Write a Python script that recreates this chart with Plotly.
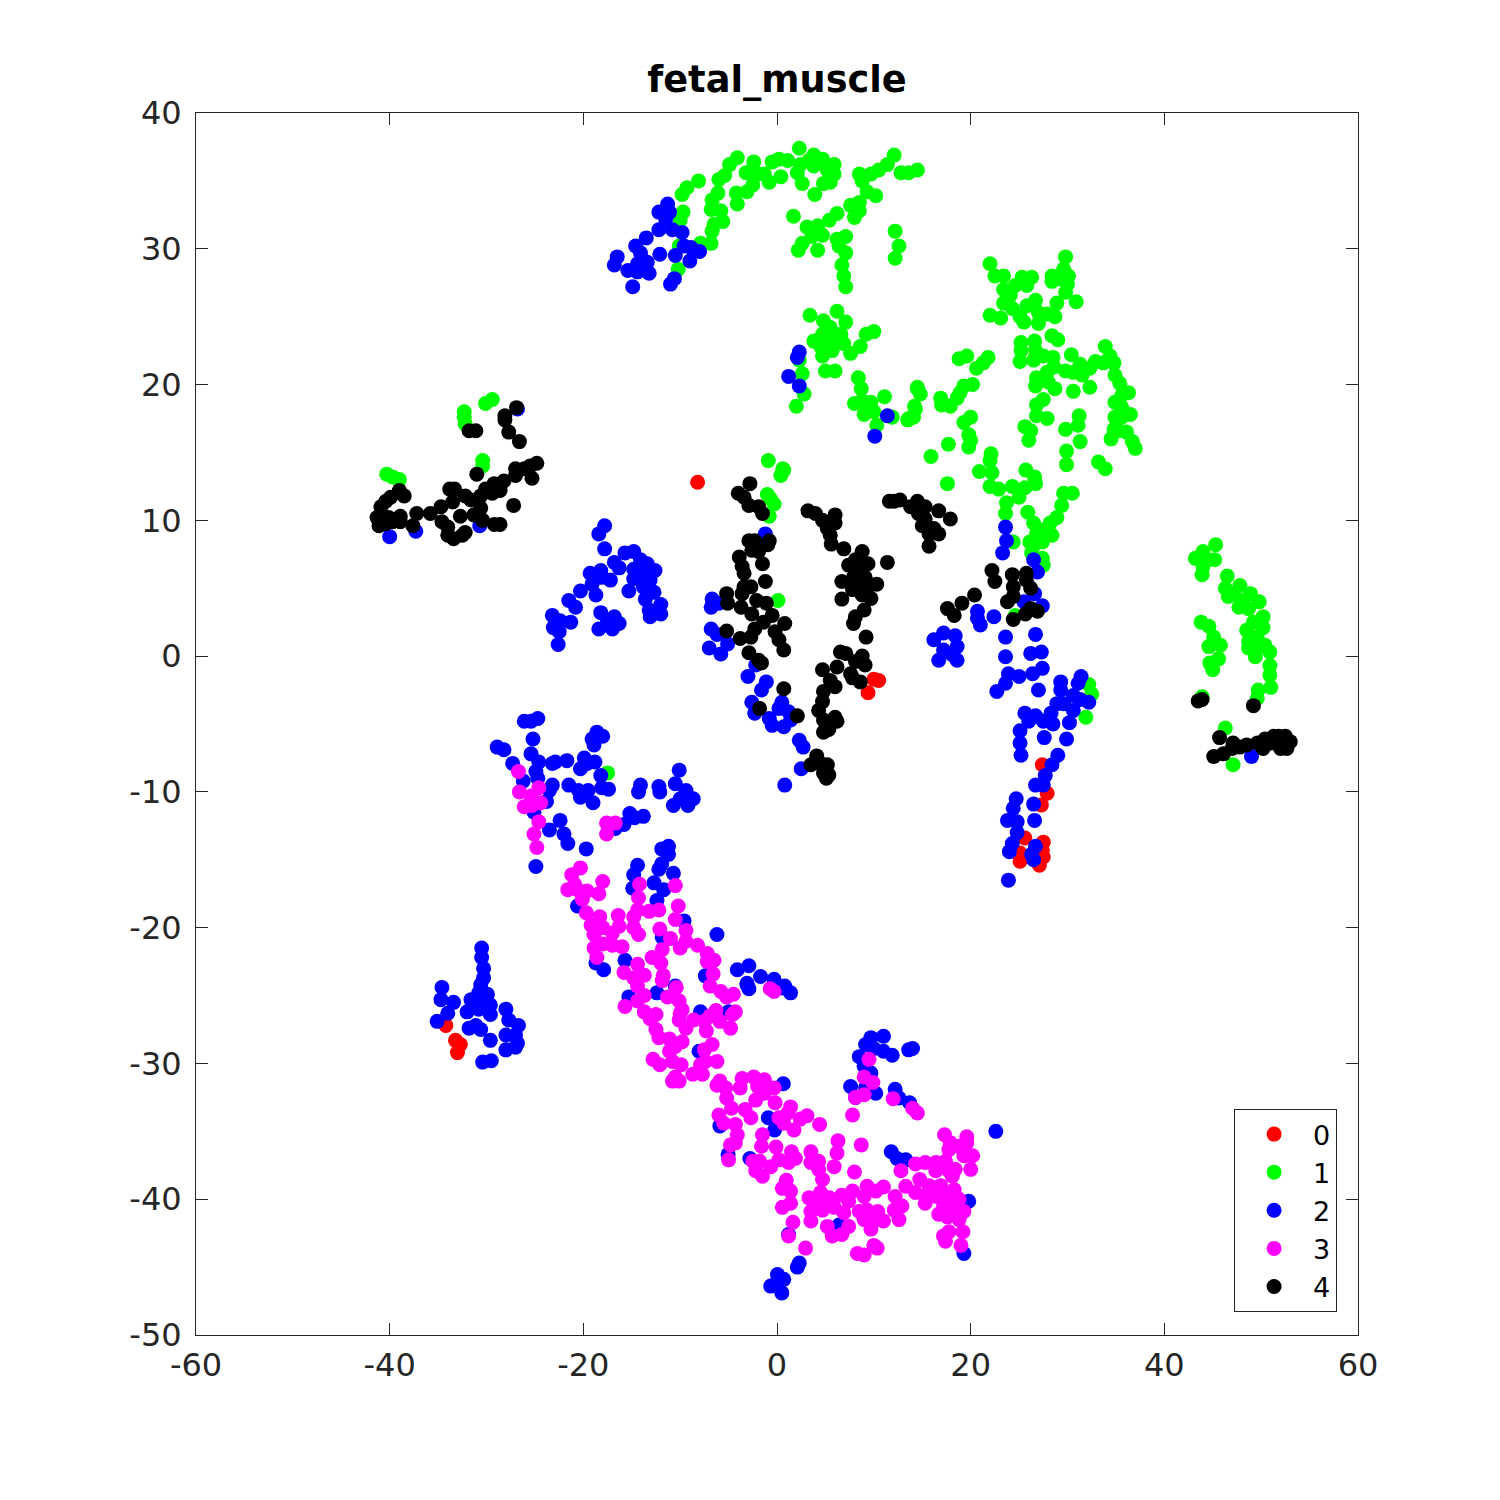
import plotly.graph_objects as go

# cluster labels and colours
labels = ["0", "1", "2", "3", "4"]
colors = ["#ff0000", "#00ff00", "#0000ff", "#ff00ff", "#000000"]

x_ticks = [-60, -40, -20, 0, 20, 40, 60]
y_ticks = [-50, -40, -30, -20, -10, 0, 10, 20, 30, 40]

# t-SNE coordinates
pts_0 = [(27.4,-8.0),(27.9,-10.1),(27.3,-10.96),(25.6,-13.4),(27.5,-13.7),(25.1,-14.5),(25.1,-15.1),(27.5,-14.8),
    (27.1,-15.4),(27.4,-14.3),(-8.2,12.8),(10.0,-1.7),(10.5,-1.8),(9.4,-2.7),(-34.2,-27.2),(-33.2,-28.3),
    (-32.7,-28.6),(-33.0,-29.2)]

pts_1 = [(-8.1,35.0),(-9.3,34.5),(-9.8,34.0),(-9.7,32.7),(-10.0,32.1),(-10.1,30.2),(-10.2,28.5),(-7.9,30.4),
    (-6.8,30.4),(-6.7,31.3),(-6.5,31.8),(-5.6,32.0),(-5.8,32.8),(-6.8,32.9),(-6.7,33.6),(-6.1,34.1),(-6.0,35.1),
    (-5.4,35.4),(-4.9,36.2),(-4.1,36.7),(-4.1,33.3),(-4.2,34.1),(-3.1,34.2),(-2.5,34.7),(-3.2,35.6),(-2.4,36.4),
    (-2.0,35.5),(-0.8,34.9),(0.4,35.3),(-1.3,35.5),(-0.5,36.4),(0.2,36.6),(1.1,36.5),(2.3,37.4),(2.1,35.6),
    (2.6,34.8),(3.9,34.0),(2.4,36.2),(3.8,36.9),(4.7,36.6),(5.9,36.2),(5.9,35.5),(5.5,34.9),(4.8,34.8),(3.3,36.5),
    (5.2,35.8),(3.8,36.1),(8.5,35.5),(8.8,35.0),(9.7,35.5),(10.5,35.8),(11.4,36.2),(12.1,36.9),(12.8,35.6),
    (13.6,35.6),(14.5,35.8),(9.3,34.2),(10.2,33.9),(8.5,33.4),(7.6,33.2),(8.5,32.8),(8.0,32.3),(6.2,32.6),(5.4,32.1),
    (4.2,31.7),(3.1,31.6),(4.7,31.0),(3.6,30.9),(2.6,30.4),(2.2,29.9),(4.2,29.9),(1.7,32.4),(6.2,30.7),(7.1,30.9),
    (6.4,30.2),(7.1,29.7),(6.7,28.8),(6.9,28.0),(7.1,27.2),(12.2,31.3),(12.6,30.2),(12.2,29.3),
    (3.4,25.1),(6.2,25.4),(7.1,24.6),(4.8,24.7),(5.5,24.2),(4.7,23.7),(6.6,23.7),(3.8,23.2),(5.5,23.2),(6.9,23.0),
    (4.5,22.8),(4.7,22.1),(5.7,22.5),(7.6,22.3),(8.6,22.8),(9.2,23.7),(10.0,23.9),(5.0,21.0),(6.0,21.0),(2.3,21.8),
    (2.6,20.8),(2.8,19.3),(2.0,18.4),(8.4,20.5),(8.7,19.7),(8.0,18.6),(8.8,18.8),(9.7,18.7),(9.0,17.8),(10.0,18.0),
    (11.1,19.1),(10.3,17.0),(11.9,17.6),(13.6,17.5),(14.3,18.2),(14.5,19.7),
    (22.0,28.9),(22.5,28.0),(23.4,28.0),(25.3,27.9),(26.3,27.9),(25.8,27.3),(24.6,27.3),(23.4,27.0),(24.1,26.6),
    (23.4,26.0),(24.3,25.6),(22.0,25.1),(23.1,24.9),(25.1,25.0),(25.5,24.6),(25.8,25.8),(26.7,26.2),(27.0,25.3),
    (27.0,24.5),(27.9,25.2),(28.7,25.0),(28.9,26.0),(29.8,29.4),(29.6,28.5),(30.1,28.0),(28.4,28.0),(28.4,27.6),
    (29.2,27.8),(30.0,27.4),(29.8,26.8),(30.9,26.1),(28.4,23.6),(29.0,23.3),(25.2,23.1),(25.2,22.5),(26.6,23.2),
    (26.7,22.5),(25.1,21.7),(26.5,21.8),(27.5,22.1),(28.5,22.0),(18.8,21.9),(19.6,22.1),(21.8,22.0),(21.3,21.6),
    (20.6,21.2),(26.8,20.5),(26.7,19.9),(27.9,20.9),(28.0,20.2),(28.7,19.7),(28.6,21.3),(29.8,21.0),(30.4,22.2),
    (30.6,20.9),(31.3,21.5),(31.5,20.7),(32.3,19.8),(30.6,19.5),(32.3,21.2),(32.9,21.7),(33.9,22.8),(34.4,22.1),
    (34.8,21.6),(33.7,21.6),(34.9,20.7),(35.4,20.1),(36.3,19.4),(35.6,19.2),(34.9,18.7),(35.6,18.3),(36.5,17.8),
    (34.9,17.6),(35.6,17.6),(34.8,16.7),(36.1,16.5),(35.3,16.6),(34.5,16.0),(36.7,15.8),(37.0,15.3),(20.2,20.0),
    (19.3,19.9),(18.9,19.4),(18.6,19.0),(17.9,18.4),(16.9,19.0),(17.0,18.5),(14.5,19.8),(14.8,19.3),(14.2,18.4),
    (14.1,17.6),(13.5,17.4),(20.0,17.6),(19.3,17.2),(19.8,16.3),(20.0,15.9),(19.8,15.4),(17.7,15.6),(15.9,14.7),
    (22.1,14.9),(22.0,14.4),(20.9,13.6),(22.2,13.5),(22.0,12.5),(22.9,12.3),(17.6,12.7),(25.7,13.7),(26.6,13.2),
    (26.7,12.7),(25.6,12.4),(24.3,12.5),(25.0,11.7),(23.7,11.3),(23.6,10.5),(25.9,10.6),(30.5,12.0),(29.6,12.0),
    (29.4,11.1),(28.9,10.2),(28.2,9.8),(26.5,9.8),(28.4,8.9),(27.4,9.3),(26.8,9.0),(27.4,8.4),(26.1,8.4),(24.4,8.4),
    (29.9,15.1),(29.9,14.1),(33.2,14.3),(33.9,13.8),(26.0,15.9),(26.2,16.6),(25.6,16.9),(26.8,17.7),(27.9,17.5),
    (26.8,18.5),(27.5,18.9),(29.8,16.7),(31.2,17.7),(31.1,17.0),(31.3,15.8),(26.5,7.3),(27.4,7.2),(27.5,6.7),
    (26.7,8.3),(27.5,9.0),(26.3,7.6),
    (-32.3,18.0),(-32.3,17.6),(-32.2,17.1),(-30.1,18.6),(-29.4,18.9),(-30.4,14.4),(-30.4,14.0),(-40.3,13.4),
    (-39.7,13.2),(-39.0,13.0),(0.4,13.3),(0.7,13.7),(-1.0,11.9),(-0.3,11.2),(-0.8,10.3),(0.1,4.1),(-0.7,11.6),
    (-0.9,14.4),(0.6,13.8),
    (45.3,8.2),(43.2,7.2),(44.0,7.7),(45.2,7.1),(44.4,7.1),(43.9,6.0),(44.0,6.6),(46.5,5.9),(46.3,5.0),(47.8,5.2),
    (48.9,4.6),(47.1,4.6),(46.6,4.4),(48.0,4.1),(49.8,4.0),(47.7,3.6),(48.7,3.5),(43.8,2.5),(44.6,2.2),(45.1,1.4),
    (45.8,0.8),(44.6,0.7),(45.6,-0.2),(44.7,-0.5),(45.0,-1.0),(50.2,2.9),(49.2,2.5),(48.5,1.9),(50.2,2.1),(49.6,1.4),
    (48.7,1.1),(50.4,0.8),(50.9,0.3),(49.4,-0.05),(48.7,0.6),(49.7,0.7),(50.9,-0.7),(50.9,-1.4),(51.0,-2.3),
    (49.7,-2.5),(49.6,-3.1),(43.9,-3.0),(46.3,-5.3),(47.1,-8.0),(32.2,-2.1),(32.5,-2.8),(31.9,-4.5),(24.6,3.0),
    (-17.5,-8.6)]

pts_2 = [(-11.3,33.3),(-12.2,32.7),(-11.1,32.7),(-11.5,32.2),(-12.2,31.4),(-10.8,31.4),(-9.8,31.2),(-13.5,30.8),
    (-14.6,30.2),(-14.1,29.7),(-16.5,29.4),(-16.8,28.8),(-12.1,29.6),(-10.5,29.5),(-9.6,30.2),(-8.9,30.1),(-9.0,29.1),
    (-8.0,29.8),(-13.4,29.0),(-14.4,28.9),(-15.4,28.4),(-13.2,28.2),(-14.4,28.3),(-14.9,27.2),(-10.6,27.8),(-11.0,27.4),
    (2.3,22.4),(2.1,22.0),(1.2,20.6),(2.3,19.9),(11.4,17.7),(10.1,16.2),(-40.0,8.8),(-37.3,9.2),(-30.7,9.6),(-26.8,18.2),
    (-17.8,9.6),(-18.4,9.0),(-17.8,7.9),(-15.7,7.6),(-14.8,7.7),(-16.8,6.9),(-16.3,6.5),(-18.2,6.3),(-19.3,6.1),
    (-17.2,5.6),(-18.1,5.8),(-19.1,5.3),(-20.3,4.8),(-18.7,4.5),(-21.5,4.1),(-20.8,3.6),(-21.3,2.5),(-23.2,3.0),
    (-22.4,2.6),(-23.1,2.1),(-22.5,1.8),(-22.6,0.85),(-18.2,3.2),(-18.4,2.0),(-17.5,2.6),(-17.0,2.0),(-16.8,2.9),
    (-16.3,2.4),(-14.1,7.1),(-13.4,6.8),(-12.6,6.3),(-14.8,6.4),(-13.8,6.1),(-14.8,5.7),(-13.1,5.6),(-15.3,4.8),
    (-13.8,5.1),(-12.7,4.7),(-13.6,4.2),(-12.0,3.8),(-13.2,3.4),(-13.1,2.9),(-12.0,3.1),
    (-1.2,9.0),(-6.7,4.2),(-6.8,3.6),(-6.0,3.9),(-6.8,2.0),(-6.2,1.6),(-5.1,0.9),(-7.0,0.6),(-5.8,0.15),(-2.2,-0.65),
    (-3.0,-1.5),(-1.1,-1.9),(-1.6,-2.5),(-2.6,-3.4),(-2.3,-4.2),(0.5,-3.4),(0.2,-3.85),(-0.8,-4.6),(-0.5,-5.1),
    (0.7,-5.2),(1.2,-4.1),(1.4,-4.7),(2.3,-6.2),(2.7,-6.7),(2.5,-8.3),(0.8,-9.5),(20.7,3.3),(20.7,2.8),(21.0,2.3),
    (22.4,2.9),(17.2,1.7),(18.4,1.5),(16.2,1.2),(18.6,0.7),(17.2,0.45),(16.7,-0.3),(18.6,-0.3),(18.1,0.1),
    (23.6,9.5),(23.7,8.5),(23.3,7.6),(26.5,7.1),(26.9,6.2),(26.6,4.6),(25.5,4.0),(27.4,3.7),(26.7,1.6),(23.6,1.4),
    (23.6,-0.05),(26.2,0.2),(27.3,0.3),(23.9,-1.3),(25.0,-1.5),(26.4,-1.3),(27.4,-0.9),(23.6,-2.0),(22.7,-2.6),
    (27.0,-2.5),(29.3,-1.9),(29.3,-2.5),(31.4,-1.5),(31.1,-2.0),(30.6,-2.9),(32.2,-3.4),(31.3,-3.2),(28.9,-3.5),
    (29.6,-3.5),(28.3,-4.2),(30.6,-4.0),(30.2,-4.9),(25.6,-4.2),(26.7,-4.4),(26.0,-4.8),(28.5,-5.0),(27.5,-4.8),
    (25.1,-5.5),(25.1,-6.4),(25.2,-7.3),(27.6,-6.0),(29.9,-6.1),(29.0,-7.3),(28.4,-8.0),(27.7,-8.8),(26.7,-9.5),
    (27.5,-9.5),(24.7,-10.5),(26.5,-10.9),(24.4,-11.2),(23.8,-12.1),(24.8,-12.2),(26.6,-12.1),(24.8,-13.0),
    (24.3,-13.8),(24.0,-14.4),(26.7,-14.0),(26.3,-14.6),(26.5,-15.0),(23.9,-16.5),(49.0,-7.4),
    (-26.1,-4.8),(-24.7,-4.6),(-25.4,-4.8),(-25.2,-6.1),(-25.4,-7.2),(-28.9,-6.7),(-28.2,-6.9),(-27.3,-7.9),
    (-24.6,-7.8),(-24.9,-8.5),(-26.2,-9.2),(-24.7,-9.0),(-23.2,-7.9),(-22.9,-7.8),(-21.7,-7.7),(-20.3,-8.3),
    (-19.9,-7.5),(-18.8,-7.8),(-19.6,-7.9),(-18.6,-5.6),(-18.0,-5.9),(-19.1,-6.1),(-18.9,-6.55),(-18.2,-8.8),
    (-21.5,-9.5),(-23.2,-9.5),(-23.5,-9.9),(-20.5,-9.9),(-19.5,-9.9),(-20.3,-10.4),(-19.0,-10.8),(-18.1,-9.7),
    (-17.4,-9.8),(-23.8,-10.7),(-25.1,-11.5),(-22.4,-12.1),(-23.5,-12.8),(-22.0,-13.1),(-21.6,-13.8),(-19.7,-14.2),
    (-24.9,-15.5),(-14.1,-9.5),(-14.3,-10.0),(-12.2,-9.6),(-12.1,-10.0),(-10.1,-8.4),(-10.5,-9.4),(-9.4,-9.9),
    (-10.0,-10.5),(-8.65,-10.5),(-10.7,-11.0),(-9.2,-11.0),(-13.8,-11.8),(-15.2,-11.6),(-15.8,-12.4),(-16.7,-12.7),
    (-14.7,-11.9),(-11.2,-14.0),(-11.9,-14.2),(-11.2,-14.6),(-11.9,-15.3),(-12.2,-15.7),(-14.4,-15.4),(-14.8,-16.1),
    (-14.9,-17.1),(-12.7,-16.7),(-11.7,-17.2),(-10.7,-16.0),(-12.4,-18.0),(-20.6,-18.4),(-9.6,-19.5),(-11.85,-20.7),
    (-6.2,-20.5),(-15.7,-22.4),(-18.7,-22.6),(-17.9,-23.1),(-4.1,-23.1),(-2.9,-22.8),(-1.7,-23.6),(-0.3,-23.8),
    (-3.1,-24.1),(0.8,-24.3),(1.4,-24.8),(-2.9,-24.5),(-7.4,-23.55),(-12.4,-24.8),(-10.5,-24.3),(-15.3,-25.1),
    (-7.9,-26.2),(-5.0,-26.2),(-8.05,-29.1),(-3.1,-24.2),(0.7,-24.45),(0.65,-31.5),(-0.9,-34.0),(-0.25,-34.9),
    (-5.9,-34.6),(-5.05,-36.7),(-2.8,-37.0),(1.2,-42.6),(6.4,-41.9),(19.8,-40.15),(19.3,-44.0),(22.6,-35.0),
    (11.0,-28.0),(9.7,-28.1),(9.15,-28.6),(10.0,-28.9),(11.0,-29.1),(11.9,-29.4),(8.5,-29.5),(9.0,-30.2),(9.7,-30.7),
    (14.0,-28.9),(13.6,-29.0),(7.6,-31.7),(8.1,-32.5),(9.15,-31.8),(10.2,-32.2),(12.2,-31.9),(12.6,-32.55),
    (13.7,-32.9),(11.8,-36.5),(12.4,-37.0),(13.3,-37.1),(2.3,-44.7),(2.1,-45.0),(0.05,-45.55),(0.7,-45.9),
    (-0.65,-46.4),(0.05,-46.0),(0.5,-46.9),
    (-30.5,-21.5),(-30.5,-22.2),(-30.3,-23.0),(-30.3,-23.7),(-30.6,-24.2),(-34.6,-24.4),(-34.7,-25.3),(-33.4,-25.5),
    (-35.1,-26.9),(-34.0,-26.3),(-31.6,-25.3),(-30.6,-25.3),(-29.6,-25.7),(-30.8,-26.0),(-32.0,-26.2),(-31.8,-27.4),
    (-29.6,-26.4),(-28.0,-26.0),(-27.7,-26.8),(-26.7,-27.2),(-27.0,-27.9),(-28.0,-27.9),(-30.6,-27.5),(-29.6,-28.3),
    (-26.8,-28.5),(-28.0,-29.0),(-27.0,-28.8),(-30.4,-29.9),(-29.5,-29.8),(-31.1,-27.2),(-30.8,-24.8),(-29.9,-24.9)]

pts_3 = [(-26.7,-8.5),(-26.6,-10.0),(-24.6,-9.7),(-25.4,-10.3),(-24.4,-10.8),(-26.1,-11.1),(-25.3,-11.0),(-24.6,-12.2),
    (-25.1,-13.1),(-24.8,-14.1),(-17.6,-12.3),(-16.7,-12.3),(-17.6,-13.1),(-20.3,-15.6),(-21.2,-16.1),(-20.9,-16.8),
    (-21.6,-17.2),(-20.6,-17.2),(-18.0,-16.6),(-18.4,-17.5),(-19.6,-17.3),(-20.1,-17.9),(-14.2,-16.8),(-10.5,-16.9),
    (-14.3,-17.8),(-14.4,-18.7),(-13.2,-18.8),(-12.2,-18.7),(-10.2,-18.4),(-19.7,-18.9),(-18.3,-19.2),(-16.4,-19.1),
    (-14.8,-19.2),(-19.2,-19.8),(-16.3,-19.9),(-18.0,-20.0),(-18.9,-20.5),(-17.0,-20.4),(-14.8,-20.0),(-14.3,-20.5),
    (-12.1,-20.1),(-10.5,-19.4),(-9.4,-20.2),(-11.0,-20.8),(-9.4,-21.0),(-8.2,-21.3),(-10.0,-21.5),(-11.85,-21.6),
    (-7.2,-21.9),(-6.5,-22.4),(-7.2,-22.5),(-18.9,-21.5),(-18.0,-21.2),(-17.0,-21.3),(-16.0,-21.4),(-18.6,-22.2),
    (-12.9,-22.2),(-14.4,-22.7),(-12.0,-22.6),(-15.8,-23.3),(-13.7,-23.5),(-14.8,-23.7),(-11.75,-23.5),(-11.85,-23.9),
    (-6.6,-23.4),(-14.4,-24.3),(-6.9,-24.3),(-5.8,-24.7),(-4.5,-24.9),(-5.2,-25.1),(-10.4,-24.4),(-11.3,-25.1),
    (-13.7,-25.0),(-14.4,-25.4),(-15.7,-25.8),(-10.1,-25.4),(-0.3,-24.7),(-0.7,-24.5),(-13.7,-26.2),(-12.5,-26.4),
    (-10.0,-26.3),(-6.3,-26.1),(-4.3,-26.2),(-6.9,-26.5),
    (-13.1,-26.7),(-12.5,-27.5),(-12.2,-28.1),(-11.1,-28.2),(-9.8,-28.4),(-10.5,-28.75),(-11.1,-29.1),(-12.8,-29.7),
    (-12.1,-30.1),(-10.8,-29.85),(-9.9,-30.1),(-10.5,-31.0),(-10.8,-31.3),(-10.1,-31.3),(-9.8,-26.05),(-10.1,-26.8),
    (-9.4,-27.4),(-8.6,-26.8),(-7.5,-26.9),(-7.3,-27.6),(-6.7,-28.6),(-7.5,-29.0),(-6.2,-29.85),(-7.4,-29.85),
    (-7.9,-30.1),(-8.7,-30.8),(-7.7,-30.8),(-5.9,-26.9),(-4.6,-26.4),(-4.8,-27.4),
    (-5.9,-31.3),(-6.2,-31.6),(-5.3,-31.8),(-5.2,-32.55),(-4.7,-33.3),(-3.6,-31.1),(-3.8,-31.8),(-2.4,-31.0),
    (-1.3,-31.2),(-2.0,-31.7),(-0.3,-31.8),(-1.3,-32.2),(-2.2,-32.7),(-0.2,-32.9),(-6.0,-33.8),(-5.5,-34.4),
    (-3.3,-33.4),(-2.7,-34.0),(1.4,-33.2),(0.2,-34.0),(1.1,-33.65),(0.7,-34.4),(1.75,-34.9),(3.1,-33.85),(2.4,-34.1),
    (4.4,-34.5),(7.8,-33.8),(-4.3,-34.5),(-4.1,-35.25),(-4.3,-35.85),(-4.8,-36.0),(-1.5,-35.25),(-1.6,-36.1),
    (-5.0,-37.1),(-2.5,-37.2),(-1.8,-37.2),(-2.2,-37.9),(-1.5,-38.3),(-0.65,-37.6),(-0.1,-36.15),(0.2,-37.1),
    (1.5,-36.5),(1.9,-37.0),(1.2,-37.3),(3.5,-36.5),(3.5,-37.3),(4.3,-37.2),(4.3,-37.8),(5.9,-37.6),(4.7,-38.55),
    (6.3,-35.7),(6.2,-36.6),(8.7,-36.0),(8.0,-38.0),(0.96,-38.6),(0.55,-39.2),(1.4,-39.4),(1.4,-40.3),(0.55,-40.6),
    (1.65,-41.7),(1.2,-42.7),(2.95,-43.6),(3.3,-39.9),(4.5,-39.5),(5.4,-39.9),(4.3,-40.3),(3.5,-40.9),(3.5,-41.6),
    (4.7,-40.8),(5.9,-40.6),(5.2,-42.0),(5.7,-42.7),(6.7,-42.6),(7.4,-42.0),(6.9,-41.0),(6.7,-39.7),(7.8,-39.4),
    (7.4,-40.15),(9.3,-39.05),(11.0,-39.1),(10.2,-39.4),(9.0,-39.8),(8.5,-40.9),(9.3,-40.8),(10.4,-40.9),(9.0,-41.5),
    (10.0,-41.6),(11.0,-41.6),(9.7,-42.2),(12.2,-39.8),(12.9,-40.5),(12.1,-40.8),(12.6,-41.5),(13.3,-39.05),
    (12.8,-37.9),(14.3,-37.4),(15.3,-37.3),(16.4,-37.3),(16.4,-37.9),(17.4,-37.2),(17.75,-37.9),(18.4,-37.8),
    (18.1,-38.3),(17.3,-35.25),(17.9,-35.85),(19.6,-35.4),(19.6,-35.85),(17.75,-36.35),(18.8,-36.1),(20.2,-36.8),
    (19.3,-36.8),(20.0,-37.8),(14.75,-38.55),(15.7,-39.0),(16.9,-39.0),(18.3,-39.3),(14.3,-39.5),(15.3,-39.8),
    (16.5,-39.8),(17.75,-39.8),(18.8,-40.0),(15.3,-40.3),(17.2,-40.5),(18.3,-40.6),(19.3,-40.9),(16.7,-41.1),
    (17.6,-41.3),(18.8,-41.5),(17.75,-42.4),(17.2,-42.7),(17.4,-43.1),(19.2,-42.4),(19.0,-43.4),(10.0,-43.4),
    (10.35,-43.6),(8.3,-44.0),(9.0,-44.1),(9.5,-29.7),(9.0,-31.0),(9.9,-31.4),(9.0,-32.3),(8.1,-32.5),(12.0,-32.6),
    (14.0,-33.3),(14.5,-33.65)]

pts_4 = [(-26.9,18.3),(-28.1,17.7),(-28.1,17.4),(-27.7,16.5),(-26.6,15.8),(-31.8,16.6),(-31.1,16.6),(-31.0,13.4),
    (-24.8,14.2),(-25.5,14.0),(-26.1,13.8),(-25.3,13.1),(-27.0,13.8),(-27.0,13.3),(-28.2,12.9),(-29.2,12.7),(-28.6,12.2),
    (-29.4,12.0),(-30.1,12.3),(-30.6,11.8),(-31.6,11.5),(-32.2,11.8),(-27.2,11.1),(-33.8,12.3),(-33.3,12.3),(-33.5,11.35),
    (-34.7,11.0),(-35.8,10.5),(-37.2,10.5),(-37.6,9.6),(-30.6,10.9),(-31.3,10.4),(-30.4,10.0),(-32.7,10.3),(-29.2,9.7),
    (-28.6,9.7),(-34.6,9.9),(-34.0,9.5),(-34.0,8.9),(-33.4,8.65),(-32.2,9.1),(-32.5,8.9),(-38.5,11.8),(-39.0,12.2),
    (-39.9,11.7),(-40.4,11.4),(-40.9,11.0),(-41.3,10.2),(-41.1,9.6),(-40.1,10.2),(-40.4,9.75),(-39.7,9.9),(-38.9,10.3),
    (-38.9,9.9),
    (-2.8,12.7),(-4.0,12.0),(-3.4,11.7),(-2.9,11.1),(-1.9,11.0),(-1.5,10.5),(3.2,10.7),(3.97,10.5),(4.7,10.0),(6.0,10.4),
    (6.0,9.8),(5.2,9.4),(5.5,8.9),(5.6,8.25),(6.9,7.9),(8.8,7.7),(7.4,6.7),(8.1,7.1),(9.4,6.8),(11.4,6.9),(8.3,6.3),
    (9.1,5.8),(7.9,5.8),(6.7,5.5),(10.3,5.3),(8.3,5.2),(7.8,4.9),(9.3,4.9),(9.7,4.25),(8.8,4.5),(6.7,4.2),(9.0,3.4),
    (8.1,2.9),(7.9,2.4),(9.2,1.4),(11.6,11.4),(12.7,11.5),(12.1,11.4),(14.5,11.4),(13.8,11.0),(15.3,11.0),(14.6,10.5),
    (16.7,10.7),(17.9,10.1),(15.3,10.1),(15.0,9.6),(16.2,9.4),(16.7,9.0),(15.7,9.0),(15.7,8.1),(-2.9,8.5),(-2.3,8.5),
    (-0.8,8.5),(-0.95,8.2),(-2.6,7.8),(-1.9,7.7),(-3.9,7.3),(-1.5,6.8),(-3.6,6.6),(-3.4,6.1),(-1.2,5.5),(-2.7,5.1),
    (-3.4,5.1),(-3.6,4.6),(-5.2,4.6),(-5.1,3.9),(-3.7,3.6),(-2.1,4.1),(-1.1,3.9),(-2.6,3.1),(-0.5,3.0),(-1.4,2.5),
    (0.8,2.4),(-0.2,1.8),(-2.3,2.0),(-5.2,1.85),(-3.8,1.3),(-2.7,1.4),(0.2,1.2),(0.7,0.45),(-2.9,0.25),(-1.9,-0.3),
    (-1.6,-0.5),(0.7,-2.4),(-1.8,-3.85),(2.1,-4.4),(6.55,0.3),(7.1,0.2),(8.8,0.0),(9.1,-0.65),(4.7,-1.0),(6.2,-0.8),
    (8.1,-0.4),(7.6,-1.3),(8.6,-1.9),(7.8,-1.6),(5.5,-1.8),(6.0,-2.25),(4.8,-2.6),(4.7,-3.35),(4.3,-4.0),(6.0,-4.5),
    (4.8,-4.7),(6.2,-4.8),(4.8,-5.6),(5.35,-5.4),(4.1,-7.35),(3.5,-8.0),(5.2,-8.0),(4.5,-7.9),(4.8,-8.6),(5.35,-8.75),
    (5.1,-9.0),(20.4,4.5),(19.1,3.9),(17.6,3.5),(18.3,3.0),
    (22.2,6.3),(22.5,5.5),(24.3,6.0),(24.4,5.1),(24.4,4.4),(23.8,4.0),(25.75,6.1),(25.75,5.6),(26.2,5.0),(25.65,3.1),
    (26.2,3.5),(26.9,3.3),(24.4,2.7),(43.9,-3.2),(43.5,-3.3),(49.2,-3.65),(45.7,-6.0),(47.1,-6.4),(45.1,-7.4),(46.1,-7.2),
    (47.0,-6.8),(48.5,-6.55),(47.8,-6.7),(50.4,-6.1),(50.2,-6.8),(51.8,-5.9),(51.0,-6.4),(52.0,-6.8),(52.65,-6.8),
    (53.0,-6.3),(52.5,-5.9),(49.6,-6.4),(51.3,-5.9)]

series = [pts_0, pts_1, pts_2, pts_3, pts_4]

fig = go.Figure()
for label, color, pts in zip(labels, colors, series):
    fig.add_trace(go.Scatter(
        x=[p[0] for p in pts],
        y=[p[1] for p in pts],
        mode="markers",
        name=label,
        marker=dict(color=color, size=15, line_width=0),
    ))

axis_style = dict(
    showgrid=False, zeroline=False, showline=True, mirror="ticks",
    linecolor="#262626", linewidth=1,
    ticks="inside", ticklen=12, tickcolor="#262626", tickwidth=1,
    tickfont=dict(size=32, color="#262626"),
    tickmode="array",
)
fig.update_xaxes(range=[-60, 60], tickvals=x_ticks, ticktext=[str(v) for v in x_ticks], ticklabelstandoff=2, **axis_style)
fig.update_yaxes(range=[-50, 40], tickvals=y_ticks, ticktext=[str(v) for v in y_ticks], ticklabelstandoff=7, **axis_style)

fig.update_layout(
    width=1500,
    height=1500,
    autosize=False,
    # the page body adds 8px on the left and top
    margin=dict(l=188, r=150, t=105, b=173, pad=0),
    paper_bgcolor="white",
    plot_bgcolor="white",
    font=dict(family="DejaVu Sans", color="#000000"),
    title=dict(
        text="<b>fetal_muscle</b>",
        font=dict(size=36.7, color="#000000"),
        x=0.5, xref="paper", xanchor="center",
        y=0.9527, yref="container", yanchor="middle",
    ),
    legend=dict(
        x=0.982, xanchor="right", y=0.0188, yanchor="bottom",
        bordercolor="#262626", borderwidth=1, bgcolor="white",
        font=dict(size=27, color="#000000"),
        itemwidth=68, entrywidth=32, itemsizing="trace", traceorder="normal",
        tracegroupgap=0,
    ),
)

fig.write_html("out.html")
